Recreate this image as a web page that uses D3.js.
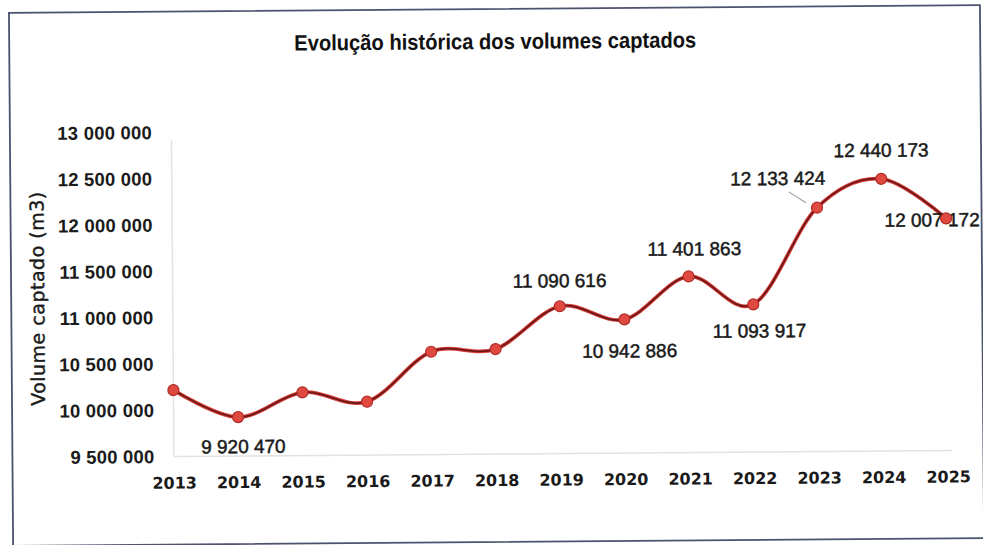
<!DOCTYPE html>
<html>
<head>
<meta charset="utf-8">
<script src="https://cdn.jsdelivr.net/npm/d3@7/dist/d3.min.js"></script>
<style>
  html, body { margin: 0; padding: 0; background: #fff; }
  svg { display: block; }
</style>
</head>
<body>
<div id="chart"></div>
<script>
const WIDTH = 983;
const HEIGHT = 545;

// dados
const years = [2013, 2014, 2015, 2016, 2017, 2018, 2019, 2020, 2021, 2022, 2023, 2024, 2025];
const volumes = [10218000, 9920470, 10183000, 10076000, 10610000, 10634000, 11090616,
                 10942886, 11401863, 11093917, 12133424, 12440173, 12007172];
const labelled = [false, true, false, false, false, false, true, true, true, true, true, true, true];
const yTicks = [9500000, 10000000, 10500000, 11000000, 11500000, 12000000, 12500000, 13000000];

// posição dos rótulos em relação ao ponto (dx, dy da linha de base)
const labelOffsets = {
  2014: [5, 36], 2019: [0, -19], 2020: [5, 38], 2021: [6, -21], 2022: [6, 33],
  2023: [-39, -23], 2024: [0, -22], 2025: [-14, 8]
};

const fmt = d3.formatLocale({ decimal: ",", thousands: " ", grouping: [3], currency: ["", ""] }).format(",d");

const svg = d3.select('#chart').append('svg')
  .attr('width', WIDTH)
  .attr('height', HEIGHT);

// a digitalização está ligeiramente rodada
const g = svg.append('g').attr('transform', 'rotate(-0.45, 497, 272)');

// moldura
g.append('rect')
  .attr('x', 11).attr('y', 9)
  .attr('width', 971).attr('height', 533)
  .attr('fill', 'none')
  .attr('stroke', '#4b536e')
  .attr('stroke-width', 1.8);

const x = d3.scalePoint().domain(years).range([172.5, 946.5]);
const y = d3.scaleLinear().domain([9500000, 13000000]).range([454, 130]);

// título
g.append('text')
  .attr('x', 497).attr('y', 49)
  .attr('text-anchor', 'middle')
  .attr('textLength', 402)
  .attr('lengthAdjust', 'spacingAndGlyphs')
  .style('font-family', '"Liberation Sans Narrow", "Liberation Sans", Arial, sans-serif')
  .style('font-weight', 'bold')
  .style('font-size', '22px')
  .style('fill', '#111')
  .text('Evolução histórica dos volumes captados');

// título do eixo
g.append('text')
  .attr('transform', 'translate(44,295) rotate(-90)')
  .attr('text-anchor', 'middle')
  .style('font-family', '"DejaVu Sans", sans-serif')
  .style('font-size', '19px')
  .style('letter-spacing', '0.5px')
  .style('fill', '#1a1a1a')
  .style('stroke', '#1a1a1a')
  .style('stroke-width', 0.4)
  .text('Volume captado (m3)');

// linhas da área do gráfico
g.append('line')
  .attr('x1', x(2013)).attr('x2', x(2013))
  .attr('y1', y(13000000) + 8).attr('y2', y(9500000))
  .attr('stroke', '#e2e2e2').attr('stroke-width', 1.5);
g.append('line')
  .attr('x1', x(2013)).attr('x2', x(2025) + 4)
  .attr('y1', y(9500000)).attr('y2', y(9500000))
  .attr('stroke', '#e2e2e2').attr('stroke-width', 1.5);

// eixo y
const yAxis = g.append('g')
  .attr('transform', 'translate(153,0)')
  .call(d3.axisLeft(y).tickValues(yTicks).tickFormat(fmt).tickSize(0).tickPadding(0));
yAxis.select('.domain').remove();
yAxis.selectAll('text')
  .style('font-family', '"Liberation Sans", Arial, sans-serif')
  .style('font-weight', 'bold')
  .style('font-size', '18.5px')
  .style('letter-spacing', '0.2px')
  .style('fill', '#1a1a1a');

// eixo x
const xAxis = g.append('g')
  .attr('transform', 'translate(0,' + 468 + ')')
  .call(d3.axisBottom(x).tickFormat(d3.format('d')).tickSize(0).tickPadding(0));
xAxis.select('.domain').remove();
xAxis.selectAll('text')
  .attr('dy', '0')
  .attr('y', 18)
  .style('font-family', '"DejaVu Sans", sans-serif')
  .style('font-weight', 'bold')
  .style('font-size', '16px')
  .style('fill', '#1a1a1a');

const pts = years.map((yr, i) => ({ year: yr, value: volumes[i], show: labelled[i] }));

// linha suavizada
const line = d3.line()
  .x(d => x(d.year))
  .y(d => y(d.value))
  .curve(d3.curveCardinal.tension(0));

g.append('path')
  .datum(pts)
  .attr('d', line)
  .attr('fill', 'none')
  .attr('stroke', '#d9403a')
  .attr('stroke-width', 3.8);
g.append('path')
  .datum(pts)
  .attr('d', line)
  .attr('fill', 'none')
  .attr('stroke', '#6e1818')
  .attr('stroke-width', 1.8);

// linha de chamada do rótulo de 2023
g.append('line')
  .attr('x1', x(2023) - 28).attr('y1', y(12133424) - 16)
  .attr('x2', x(2023) - 11).attr('y2', y(12133424) - 5)
  .attr('stroke', '#9a9a9a').attr('stroke-width', 1);

// rótulos de dados
g.selectAll('.lbl')
  .data(pts.filter(d => d.show))
  .enter()
  .append('text')
  .attr('class', 'lbl')
  .attr('x', d => x(d.year) + labelOffsets[d.year][0])
  .attr('y', d => y(d.value) + labelOffsets[d.year][1])
  .attr('text-anchor', 'middle')
  .style('font-family', '"Liberation Sans", Arial, sans-serif')
  .style('font-size', '19px')
  .style('fill', '#1a1a1a')
  .style('stroke', '#1a1a1a')
  .style('stroke-width', 0.5)
  .text(d => fmt(d.value));

// marcadores
g.selectAll('.dot')
  .data(pts)
  .enter()
  .append('circle')
  .attr('class', 'dot')
  .attr('cx', d => x(d.year))
  .attr('cy', d => y(d.value))
  .attr('r', 5.5)
  .attr('fill', '#e0493f')
  .attr('stroke', '#b02c28')
  .attr('stroke-width', 1.2);
</script>
</body>
</html>
